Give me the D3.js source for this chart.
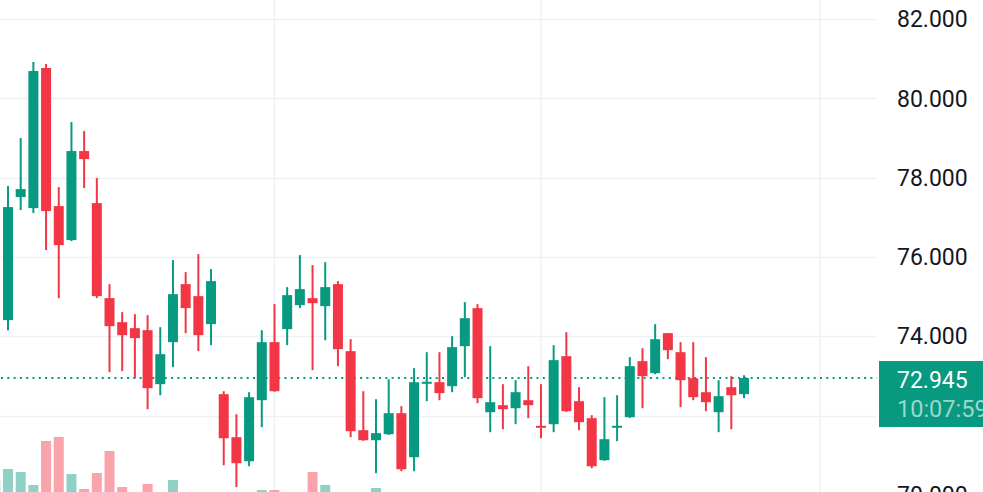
<!DOCTYPE html>
<html>
<head>
<meta charset="utf-8">
<script src="https://cdn.jsdelivr.net/npm/d3@7"></script>
<style>
  html, body { margin: 0; padding: 0; background: #fff; overflow: hidden; }
  svg { display: block; }
</style>
</head>
<body>
<svg id="chart" width="983" height="492"></svg>
<script>
// candle index -1 sits just off the left edge, only its volume bar peeks in
const idx    = d3.range(-1, 59);
const open   = [73.90, 74.405, 77.509, 77.231, 80.764, 77.281, 76.424, 78.669, 77.357, 74.96, 74.354,
                74.203, 74.152, 72.79, 73.85, 75.313, 75.01, 74.304, 72.538, 71.453, 70.847,
                72.386, 73.85, 74.178, 74.783, 74.96, 74.758, 75.313, 73.623, 71.629, 71.377,
                71.528, 72.058, 70.948, 72.83, 72.84, 72.739, 73.749, 74.708, 72.083, 72.26,
                72.184, 72.386, 71.74, 71.781, 73.496, 72.361, 71.932, 70.872, 71.72, 71.957,
                73.37, 73.068, 74.077, 73.597, 72.941, 72.588, 72.083, 72.714, 72.538];
const high   = [74.90, 77.786, 78.997, 80.915, 80.864, 77.761, 79.401, 79.174, 77.988, 75.313, 74.607,
                74.556, 74.531, 74.228, 75.919, 75.616, 76.07, 75.692, 72.613, 72.033, 72.588,
                74.152, 74.809, 75.238, 76.045, 75.793, 75.868, 75.389, 73.925, 72.613, 72.411,
                72.916, 72.235, 73.194, 73.597, 73.597, 74.001, 74.859, 74.809, 73.749, 72.79,
                72.891, 73.244, 72.79, 73.774, 74.102, 72.714, 72.008, 72.462, 72.512, 73.471,
                73.698, 74.304, 74.08, 73.85, 73.85, 73.471, 72.891, 72.992, 73.017];
const low    = [73.60, 74.152, 77.18, 77.105, 76.171, 74.96, 76.40, 77.736, 74.96, 73.093, 73.118,
                72.941, 72.159, 72.512, 73.219, 74.077, 73.623, 73.774, 70.746, 70.191, 70.721,
                71.705, 72.60, 73.774, 74.708, 73.143, 73.90, 73.244, 71.453, 71.36, 70.544,
                71.51, 70.595, 70.595, 72.361, 72.386, 72.588, 72.967, 72.311, 71.579, 71.654,
                71.781, 71.932, 71.427, 71.579, 72.09, 71.629, 70.67, 70.86, 71.352, 71.94,
                72.184, 73.04, 73.421, 72.21, 72.386, 72.109, 71.579, 71.654, 72.437];
const close  = [74.50, 77.256, 77.71, 80.688, 77.155, 76.297, 78.669, 78.467, 75.01, 74.253, 74.026,
                73.951, 72.689, 73.547, 75.061, 74.708, 74.026, 75.389, 71.427, 70.797, 72.462,
                73.85, 72.613, 75.036, 75.187, 74.834, 75.238, 73.673, 71.604, 71.377, 71.554,
                72.058, 70.645, 72.84, 72.85, 72.563, 73.724, 74.455, 72.437, 72.336, 72.159,
                72.588, 72.26, 71.72, 73.396, 72.109, 71.831, 70.721, 71.402, 71.74, 73.244,
                72.992, 73.925, 73.648, 72.891, 72.462, 72.336, 72.487, 72.512, 72.945];
const volume = [81, 91, 88, 75, 119, 123, 86, 71, 87, 109, 73,
                60, 76, 55, 80, 62, 58, 50, 64, 66, 60,
                70, 70, 52, 48, 88, 75, 62, 66, 58, 72,
                60, 55, 64, 45, 50, 58, 62, 65, 52, 40,
                44, 38, 42, 60, 63, 50, 58, 55, 36, 52,
                48, 54, 40, 46, 44, 38, 42, 40, 20];

const priceTicks = [70, 72, 74, 76, 78, 80, 82];
const timeGrid   = [21, 42, 64];   // month separators (candle index)
const lastPrice  = 72.945;
const countdown  = "10:07:59";

const W = 983, H = 492;
const plotRight = 877;
const up = "#089981", down = "#f23645";
const upVol = "rgba(8,153,129,0.45)", downVol = "rgba(242,54,69,0.45)";
const font = "Roboto, 'Open Sans', sans-serif";

const candles = idx.map((d, i) => ({
  i: d, o: open[i], h: high[i], l: low[i], c: close[i], v: volume[i]
}));

const svg = d3.select("#chart");

const x = d3.scaleLinear().domain([0, 58]).range([8, 744]);
const y = d3.scaleLinear().domain([70, 82]).range([494.8, 19]);
const yVol = d3.scaleLinear().domain([0, 130]).range([560, 430]);
const bodyW = 10;

// grid
svg.append("g")
  .selectAll("line")
  .data(priceTicks)
  .join("line")
  .attr("x1", 0).attr("x2", plotRight)
  .attr("y1", d => Math.round(y(d)) + 0.5).attr("y2", d => Math.round(y(d)) + 0.5)
  .attr("stroke", "#f0f1f4").attr("stroke-width", 1.5);

svg.append("g")
  .selectAll("line")
  .data(timeGrid)
  .join("line")
  .attr("x1", d => x(d)).attr("x2", d => x(d))
  .attr("y1", 0).attr("y2", H)
  .attr("stroke", "#f0f1f4").attr("stroke-width", 1.5);

// volume
svg.append("g")
  .selectAll("rect")
  .data(candles)
  .join("rect")
  .attr("x", d => x(d.i) - bodyW / 2)
  .attr("width", bodyW)
  .attr("y", d => yVol(d.v))
  .attr("height", d => yVol(0) - yVol(d.v))
  .attr("fill", d => d.c >= d.o ? upVol : downVol);

// last price line
svg.append("line")
  .attr("x1", 1).attr("x2", plotRight)
  .attr("y1", y(lastPrice)).attr("y2", y(lastPrice))
  .attr("stroke", up).attr("stroke-width", 2)
  .attr("stroke-dasharray", "2,4.3");

// candles (the one left of the pane is not drawn)
const cg = svg.append("g")
  .selectAll("g")
  .data(candles.filter(d => x(d.i) > 0))
  .join("g")
  .attr("fill", d => d.c >= d.o ? up : down)
  .attr("stroke", d => d.c >= d.o ? up : down);

cg.append("line")
  .attr("x1", d => x(d.i)).attr("x2", d => x(d.i))
  .attr("y1", d => y(d.h)).attr("y2", d => y(d.l))
  .attr("stroke-width", 2);

cg.append("rect")
  .attr("stroke", "none")
  .attr("x", d => x(d.i) - bodyW / 2)
  .attr("width", bodyW)
  .attr("y", d => y(Math.max(d.o, d.c)))
  .attr("height", d => Math.max(2, Math.abs(y(d.o) - y(d.c))));

// price axis labels, the one under the price badge is hidden
const by = y(lastPrice);
svg.append("g")
  .selectAll("text")
  .data(priceTicks.filter(d => y(d) < by - 27 || y(d) > by + 59))
  .join("text")
  .attr("x", 897)
  .attr("y", d => y(d))
  .attr("dy", "0.36em")
  .attr("fill", "#131722")
  .style("font-family", font)
  .style("font-size", "23px")
  .text(d => d3.format(".3f")(d));

// last price badge
svg.append("rect")
  .attr("x", 879).attr("y", by - 17)
  .attr("width", W - 879).attr("height", 66)
  .attr("fill", up);

svg.append("text")
  .attr("x", 897).attr("y", by + 2).attr("dy", "0.36em")
  .attr("fill", "#fff")
  .style("font-family", font)
  .style("font-size", "23px")
  .text(d3.format(".3f")(lastPrice));

svg.append("text")
  .attr("x", 897).attr("y", by + 31).attr("dy", "0.36em")
  .attr("fill", "rgba(255,255,255,0.62)")
  .style("font-family", font)
  .style("font-size", "23.5px")
  .text(countdown);
</script>
</body>
</html>
